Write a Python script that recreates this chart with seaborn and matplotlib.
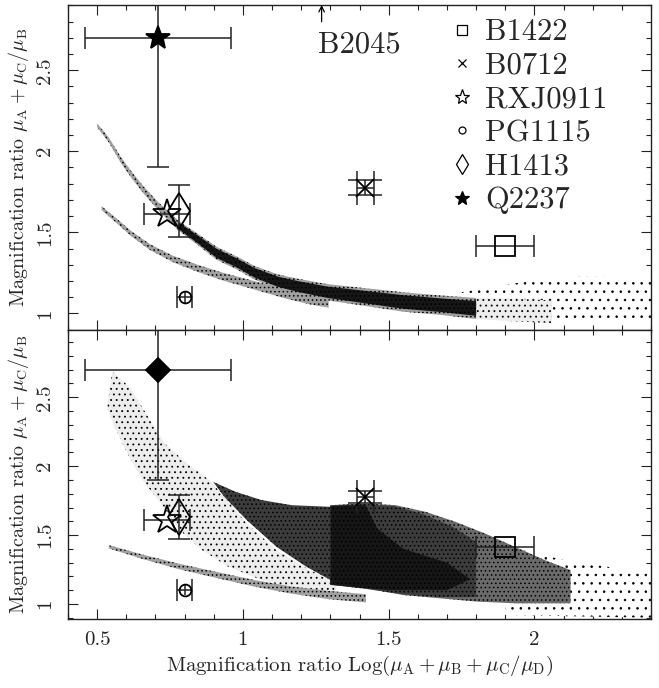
import matplotlib
matplotlib.use("Agg")
import matplotlib.pyplot as plt
import seaborn as sns
from matplotlib.lines import Line2D
from matplotlib.ticker import MultipleLocator, FuncFormatter

# ---------------- data ----------------
# observed lenses (both panels)
lens_names = ["B1422", "B0712", "RXJ0911", "PG1115", "H1413", "Q2237"]
lens_x = [1.90, 1.42, 0.74, 0.80, 0.78, 0.71]
lens_y = [1.415, 1.775, 1.61, 1.10, 1.63, 2.70]
lens_xerr = [0.10, 0.03, 0.08, 0.025, 0.0, 0.25]
lens_yerr = [0.0, 0.045, 0.0, 0.0, 0.16, 0.80]
lens_inner_yerr = [0.0, 0.0, 0.0, 0.035, 0.0, 0.0]

# B2045 upper limit
b2045_x = 1.27
b2045_y = 2.80
b2045_label_x = 1.40
b2045_label_y = 2.655

# --- upper panel simulated clouds ---
bandA_x = [0.50, 0.54, 0.58, 0.62, 0.66, 0.71, 0.78, 0.85, 0.91, 0.98, 1.04,
           1.12, 1.19, 1.29, 1.42, 1.55, 1.68, 1.80, 1.93, 2.06]
bandA_y = [2.16, 2.07, 1.95, 1.85, 1.76, 1.66, 1.54, 1.45, 1.37, 1.31, 1.25,
           1.195, 1.165, 1.13, 1.10, 1.07, 1.05, 1.03, 1.02, 1.01]
bandA_hw = [0.012, 0.015, 0.018, 0.02, 0.022, 0.025, 0.03, 0.035, 0.04, 0.04,
            0.042, 0.045, 0.048, 0.05, 0.055, 0.06, 0.06, 0.065, 0.07, 0.07]

bandB_x = [0.515, 0.566, 0.617, 0.681, 0.758, 0.847, 0.936, 1.039, 1.141, 1.23, 1.294]
bandB_y = [1.650, 1.572, 1.492, 1.409, 1.337, 1.276, 1.224, 1.173, 1.122, 1.085, 1.065]
bandB_hw = [0.012, 0.014, 0.016, 0.018, 0.02, 0.022, 0.024, 0.026, 0.028, 0.03, 0.03]

tailU_x = [1.75, 1.95, 2.15, 2.40, 2.40, 2.10, 1.75]
tailU_y = [1.13, 1.19, 1.23, 1.22, 0.95, 0.95, 0.98]

# --- lower panel simulated clouds ---
sparseL_x = [0.553, 0.611, 0.668, 0.732, 0.809, 0.885, 0.936, 1.013, 1.115, 1.230, 1.320,
             1.320, 1.192, 1.064, 0.949, 0.860, 0.783, 0.719, 0.655, 0.604, 0.560, 0.534, 0.547]
sparseL_y = [2.683, 2.575, 2.382, 2.164, 2.019, 1.899, 1.778, 1.585, 1.391, 1.246, 1.150,
             1.053, 1.101, 1.174, 1.271, 1.391, 1.536, 1.730, 1.899, 2.092, 2.285, 2.418, 2.623]

wedge_x = [0.898, 0.975, 1.064, 1.166, 1.300, 1.300, 1.217, 1.115, 1.013, 0.936]
wedge_y = [1.886, 1.814, 1.754, 1.717, 1.705, 1.174, 1.271, 1.415, 1.609, 1.778]

block_x = [1.300, 1.422, 1.524, 1.626, 1.728, 1.830, 1.933, 2.035, 2.124,
           2.124, 1.933, 1.805, 1.677, 1.549, 1.422, 1.300]
block_y = [1.717, 1.729, 1.717, 1.669, 1.597, 1.512, 1.415, 1.319, 1.246,
           1.005, 1.005, 1.017, 1.041, 1.065, 1.114, 1.138]

dense_x = [1.30, 1.42, 1.52, 1.62, 1.72, 1.80, 1.80, 1.68, 1.55, 1.42, 1.30]
dense_y = [1.715, 1.725, 1.71, 1.65, 1.56, 1.45, 1.05, 1.05, 1.07, 1.11, 1.14]

core_x = [1.30, 1.42, 1.46, 1.55, 1.70, 1.78, 1.70, 1.50, 1.30]
core_y = [1.71, 1.72, 1.55, 1.40, 1.30, 1.18, 1.10, 1.10, 1.14]

bandL_x = [0.540, 0.655, 0.783, 0.911, 1.039, 1.166, 1.294, 1.422]
bandL_y = [1.415, 1.343, 1.271, 1.210, 1.150, 1.101, 1.065, 1.041]
bandL_hw = [0.012, 0.016, 0.02, 0.022, 0.024, 0.026, 0.03, 0.03]

tailL_x = [1.90, 2.10, 2.40, 2.40, 1.90]
tailL_y = [1.42, 1.32, 1.22, 0.90, 0.92]

# tick labels
x_ticks = [0.5, 1.0, 1.5, 2.0]
y_ticks = [1.0, 1.5, 2.0, 2.5]

# ---------------- styling ----------------
sns.set_theme(style="ticks")
plt.rcParams["font.family"] = ["cmr10", "DejaVu Serif"]
plt.rcParams["mathtext.fontset"] = "cm"
plt.rcParams["axes.formatter.use_mathtext"] = True
plt.rcParams["axes.unicode_minus"] = False
plt.rcParams["hatch.linewidth"] = 0.6

W, H = 659, 688
fig = plt.figure(figsize=(W / 100, H / 100), dpi=100)
ax1 = fig.add_axes([68 / W, 1 - 330 / H, 583 / W, 325 / H])
ax2 = fig.add_axes([68 / W, 1 - 619 / H, 583 / W, 289 / H], sharex=ax1)

STY = {
    "faint": dict(facecolor="white", hatch=".."),
    "sparse": dict(facecolor="#ededed", hatch="..."),
    "medium": dict(facecolor="#a0a0a0", hatch="...."),
    "mid": dict(facecolor="#6a6a6a", hatch="...."),
    "dark": dict(facecolor="#3c3c3c", hatch="...."),
    "black": dict(facecolor="#161616", hatch="...."),
}


def poly(ax, xs, ys, kind):
    ax.fill(xs, ys, edgecolor="black", linewidth=0, zorder=1, **STY[kind])


def band(ax, xs, ys, hw, kind, scale=1.0, lo_x=-9.0, hi_x=9.0):
    sel = [i for i, x in enumerate(xs) if lo_x <= x <= hi_x]
    xx = [xs[i] for i in sel]
    lo = [ys[i] - hw[i] * scale for i in sel]
    hi = [ys[i] + hw[i] * scale for i in sel]
    ax.fill_between(xx, lo, hi, edgecolor="black", linewidth=0, zorder=1, **STY[kind])


# upper panel clouds
poly(ax1, tailU_x, tailU_y, "faint")
band(ax1, bandB_x, bandB_y, bandB_hw, "medium")
band(ax1, bandA_x, bandA_y, bandA_hw, "sparse", lo_x=1.79)
band(ax1, bandA_x, bandA_y, bandA_hw, "medium", hi_x=1.81)
band(ax1, bandA_x, bandA_y, bandA_hw, "black", scale=0.7, lo_x=0.75, hi_x=1.81)

# lower panel clouds
poly(ax2, tailL_x, tailL_y, "faint")
poly(ax2, sparseL_x, sparseL_y, "sparse")
band(ax2, bandL_x, bandL_y, bandL_hw, "medium")
poly(ax2, block_x, block_y, "mid")
poly(ax2, dense_x, dense_y, "dark")
poly(ax2, wedge_x, wedge_y, "dark")
poly(ax2, core_x, core_y, "black")

# ---------------- lens points ----------------
ecol = "#222222"
marker_upper = ["s", "x", "*", "o", "d", "*"]
marker_lower = ["s", "x", "*", "o", "d", "D"]
msize_upper = [14, 13, 21, 8.5, 18, 18]
msize_lower = [14, 13, 21, 8.5, 18, 12]
filled = [False, False, False, False, False, True]
caps = [8, 12, 8, 8, 8, 8]

for ax, mk, ms in ((ax1, marker_upper, msize_upper), (ax2, marker_lower, msize_lower)):
    for i in range(len(lens_names)):
        ax.errorbar(lens_x[i], lens_y[i],
                    xerr=lens_xerr[i] if lens_xerr[i] > 0 else None,
                    yerr=lens_yerr[i] if lens_yerr[i] > 0 else None,
                    fmt="none", ecolor=ecol, elinewidth=1.1, capsize=caps[i],
                    capthick=1.1, zorder=3)
        if lens_inner_yerr[i] > 0:
            ax.errorbar(lens_x[i], lens_y[i], yerr=lens_inner_yerr[i], fmt="none",
                        ecolor=ecol, elinewidth=1.1, capsize=0, zorder=3)
        ax.plot(lens_x[i], lens_y[i], marker=mk[i], ms=ms[i], linestyle="none",
                mfc="black" if filled[i] else "none", mec="black", mew=1.3, zorder=4)

# B2045 arrow and label
ax1.annotate("", xy=(b2045_x, 2.903), xytext=(b2045_x, b2045_y),
             arrowprops=dict(arrowstyle="->", lw=0.9, color="black",
                             shrinkA=0, shrinkB=0, mutation_scale=10))
ax1.text(b2045_label_x, b2045_label_y, "B2045", fontsize=22, ha="center", va="center")

# legend
leg_handles = [
    Line2D([], [], marker="s", ms=7, mfc="none", mec="black", mew=0.9, ls="none"),
    Line2D([], [], marker="x", ms=6, mec="black", mew=0.9, ls="none"),
    Line2D([], [], marker="*", ms=11, mfc="none", mec="black", mew=0.9, ls="none"),
    Line2D([], [], marker="o", ms=5, mfc="none", mec="black", mew=0.9, ls="none"),
    Line2D([], [], marker="d", ms=10, mfc="none", mec="black", mew=0.9, ls="none"),
    Line2D([], [], marker="*", ms=10, mfc="black", mec="black", mew=0.9, ls="none"),
]
ax1.legend(leg_handles, lens_names, loc="upper left", bbox_to_anchor=(0.655, 0.957),
           frameon=False, fontsize=22, handlelength=0.8, handletextpad=0.35,
           labelspacing=0.2, borderpad=0, borderaxespad=0)

# ---------------- axes ----------------
fmt = FuncFormatter(lambda v, _: f"{v:g}")
for ax in (ax1, ax2):
    ax.set_xlim(0.4, 2.4)
    ax.xaxis.set_major_locator(MultipleLocator(0.5))
    ax.xaxis.set_minor_locator(MultipleLocator(0.1))
    ax.yaxis.set_major_locator(MultipleLocator(0.5))
    ax.yaxis.set_minor_locator(MultipleLocator(0.1))
    ax.set_yticks(y_ticks)
    ax.yaxis.set_major_formatter(fmt)
    ax.xaxis.set_major_formatter(fmt)
    ax.tick_params(which="both", direction="in", top=True, right=True,
                   color="#222222", width=0.8)
    ax.tick_params(which="major", length=7.5, labelsize=15)
    ax.tick_params(which="minor", length=3.8)
    ax.tick_params(axis="y", labelrotation=90, pad=10)
    ax.tick_params(axis="x", pad=9)
    for sp in ax.spines.values():
        sp.set_linewidth(1.0)
        sp.set_color("#222222")
    ax.set_ylabel(r"Magnification ratio $\mu_{\mathrm{A}}+\mu_{\mathrm{C}}/\mu_{\mathrm{B}}$",
                  fontsize=14.5, labelpad=4)
    for lab in ax.get_yticklabels():
        lab.set_va("center")

ax1.set_ylim(0.897, 2.903)
ax2.set_ylim(0.891, 2.988)
ax2.set_xticks(x_ticks)
ax1.tick_params(axis="x", labelbottom=False)
ax2.set_xlabel(r"Magnification ratio Log($\mu_{\mathrm{A}}+\mu_{\mathrm{B}}+\mu_{\mathrm{C}}/\mu_{\mathrm{D}}$)",
               fontsize=15, labelpad=3)

fig.savefig("out.png", dpi=100)
